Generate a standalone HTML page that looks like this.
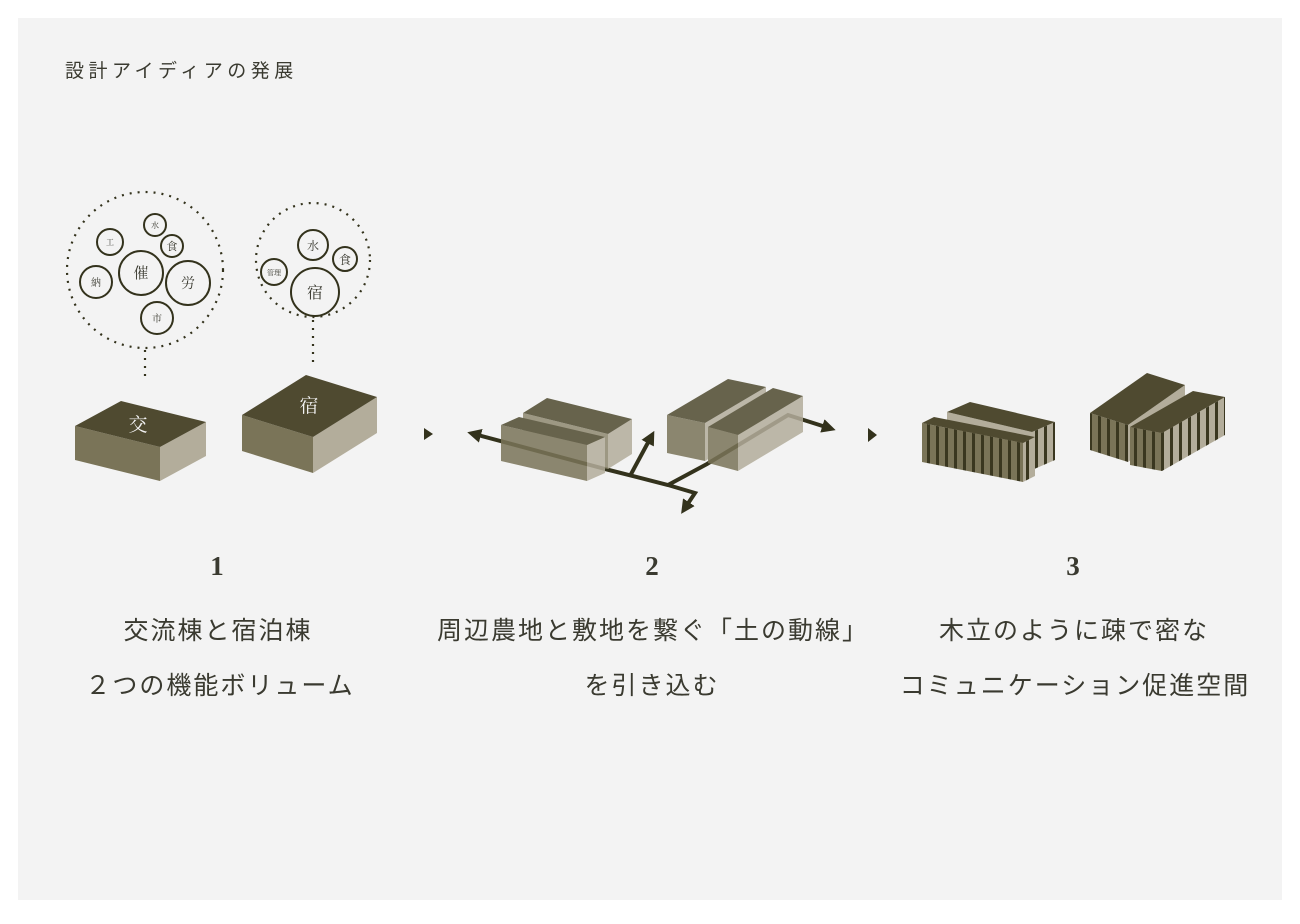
<!DOCTYPE html>
<html><head><meta charset="utf-8">
<style>
html,body{margin:0;padding:0;background:#fff;}
body{width:1300px;height:919px;overflow:hidden;}
svg text{font-family:"Liberation Sans","Noto Sans CJK JP",sans-serif;fill:#3a3a30;}
.ser{font-family:"Liberation Serif","Noto Serif CJK SC",serif !important;}
</style></head>
<body>
<svg width="1300" height="919" viewBox="0 0 1300 919" xmlns="http://www.w3.org/2000/svg">
<defs>
<pattern id="pm" patternUnits="userSpaceOnUse" width="9" height="10">
<rect width="9" height="10" fill="#7a7458"/><rect width="3" height="10" fill="#3a3720"/>
</pattern>
<pattern id="pl" patternUnits="userSpaceOnUse" width="9" height="10">
<rect width="9" height="10" fill="#b3ad9b"/><rect width="3" height="10" fill="#3a3720"/>
</pattern>
<marker id="ah" viewBox="0 0 10 10" refX="5" refY="5" markerWidth="3.5" markerHeight="3.5" orient="auto">
<path d="M0,0 L10,5 L0,10 z" fill="#33321c"/>
</marker>
</defs>
<rect x="0" y="0" width="1300" height="919" fill="#ffffff"/>
<rect x="18" y="18" width="1264" height="882" fill="#f3f3f3"/>

<text x="65" y="77" font-size="19" letter-spacing="4.5">設計アイディアの発展</text>

<!-- Stage 1 bubbles -->
<g fill="none" stroke="#33321c">
<circle cx="145" cy="270" r="78" stroke-width="2.2" stroke-dasharray="2 6"/>
<circle cx="313" cy="260" r="57" stroke-width="2.2" stroke-dasharray="2 6"/>
<line x1="145" y1="350" x2="145" y2="380" stroke-width="2.2" stroke-dasharray="2 6"/>
<line x1="313" y1="320" x2="313" y2="362" stroke-width="2.2" stroke-dasharray="2 6"/>
<g stroke-width="2">
<circle cx="110" cy="242" r="13"/>
<circle cx="155" cy="225" r="11"/>
<circle cx="172" cy="246" r="11"/>
<circle cx="141" cy="273" r="22"/>
<circle cx="188" cy="283" r="22"/>
<circle cx="96" cy="282" r="16"/>
<circle cx="157" cy="318" r="16"/>
<circle cx="313" cy="245" r="15"/>
<circle cx="345" cy="259" r="12"/>
<circle cx="274" cy="272" r="13"/>
<circle cx="315" cy="292" r="24"/>
</g>
</g>
<g text-anchor="middle">
<text class="ser" x="110" y="245" font-size="8">工</text>
<text class="ser" x="155" y="228" font-size="8">水</text>
<text class="ser" x="172" y="250" font-size="11">食</text>
<text class="ser" x="141" y="278" font-size="15">催</text>
<text class="ser" x="188" y="288" font-size="14">労</text>
<text class="ser" x="96" y="286" font-size="10">納</text>
<text class="ser" x="157" y="322" font-size="10">市</text>
<text class="ser" x="313" y="250" font-size="12">水</text>
<text class="ser" x="345" y="264" font-size="12">食</text>
<text class="ser" x="274" y="275" font-size="7">管理</text>
<text class="ser" x="315" y="298" font-size="16">宿</text>
</g>

<!-- Stage 1 boxes -->
<polygon points="160,447 75,426 75,460 160,481" fill="#7a7458"/>
<polygon points="160,447 206,422 206,456 160,481" fill="#b3ad9b"/>
<polygon points="160,447 75,426 121,401 206,422" fill="#4f4a30"/>
<text class="ser" x="138" y="431" font-size="19" text-anchor="middle" style="fill:#f3f3f3">交</text>
<polygon points="313,437 242,415 242,451 313,473" fill="#7a7458"/>
<polygon points="313,437 377,397 377,433 313,473" fill="#b3ad9b"/>
<polygon points="313,437 242,415 306,375 377,397" fill="#4f4a30"/>
<text class="ser" x="309" y="412" font-size="19" text-anchor="middle" style="fill:#f3f3f3">宿</text>

<!-- triangles -->
<polygon points="424,428 433,434 424,440" fill="#33321c"/>
<polygon points="868,428 877,435 868,442" fill="#33321c"/>

<!-- Stage 2 lines -->
<g fill="none" stroke="#33321c" stroke-width="4" stroke-linejoin="miter">
<polyline points="605,469 474,434" marker-end="url(#ah)"/>
<polyline points="605,469 668,485 695,493 685,508" marker-end="url(#ah)"/>
<polyline points="630,476 651,437" marker-end="url(#ah)"/>
<polyline points="668,485 707,464 788,415 829,428" marker-end="url(#ah)"/>
</g>
<!-- Stage 2 boxes -->
<g opacity="0.85">
<polygon points="608,434 523,413 523,448 608,469" fill="#8f8970"/>
<polygon points="608,434 632,419 632,454 608,469" fill="#b3ad9b"/>
<polygon points="608,434 523,413 547,398 632,419" fill="#4f4a30"/>
<polygon points="587,445 501,425 501,461 587,481" fill="#7a7458"/>
<polygon points="587,445 605,437 605,473 587,481" fill="#b3ad9b"/>
<polygon points="587,445 501,425 519,417 605,437" fill="#4f4a30"/>
<polygon points="705,423 667,415 667,453 705,461" fill="#7a7458"/>
<polygon points="705,423 766,387 766,425 705,461" fill="#b3ad9b"/>
<polygon points="705,423 667,415 728,379 766,387" fill="#4f4a30"/>
<polygon points="738,435 708,427 708,463 738,471" fill="#7a7458"/>
<polygon points="738,435 803,396 803,432 738,471" fill="#b3ad9b"/>
<polygon points="738,435 708,427 773,388 803,396" fill="#4f4a30"/>
</g>
<!-- Stage 3 -->
<polygon points="1032,432 947,412 947,450 1032,470" fill="#b3ad9b"/>
<polygon points="1032,432 1055,422 1055,460 1032,470" fill="url(#pl)"/>
<polygon points="1032,432 947,412 970,402 1055,422" fill="#4f4a30"/>
<polygon points="1023,443 922,423 922,462 1023,482" fill="url(#pm)"/>
<polygon points="1023,443 1035,437 1035,476 1023,482" fill="url(#pl)"/>
<polygon points="1023,443 922,423 934,417 1035,437" fill="#4f4a30"/>

<polygon points="1128,425 1090,413 1090,450 1128,462" fill="url(#pm)"/>
<polygon points="1128,425 1185,385 1185,422 1128,462" fill="#b3ad9b"/>
<polygon points="1128,425 1090,413 1147,373 1185,385" fill="#4f4a30"/>
<polygon points="1162,433 1130,427 1130,465 1162,471" fill="url(#pm)"/>
<polygon points="1162,433 1225,397 1225,435 1162,471" fill="url(#pl)"/>
<polygon points="1162,433 1130,427 1193,391 1225,397" fill="#4f4a30"/>

<!-- numbers -->
<g text-anchor="middle">
<text class="ser" x="217" y="575" font-size="27" font-weight="bold">1</text>
<text class="ser" x="652" y="575" font-size="27" font-weight="bold">2</text>
<text class="ser" x="1073" y="575" font-size="27" font-weight="bold">3</text>
<g font-size="25" letter-spacing="2">
<text x="218" y="639">交流棟と宿泊棟</text>
<text x="220" y="694">２つの機能ボリューム</text>
<text x="653" y="639">周辺農地と敷地を繋ぐ「土の動線」</text>
<text x="652" y="694">を引き込む</text>
<text x="1074" y="639">木立のように疎で密な</text>
<text x="1075" y="694">コミュニケーション促進空間</text>
</g>
</g>
</svg>
</body></html>
